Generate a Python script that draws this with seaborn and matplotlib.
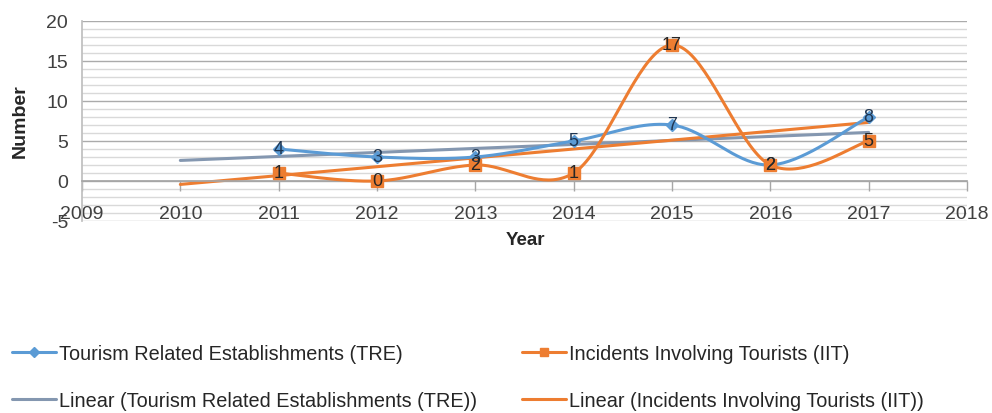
import numpy as np
import pandas as pd
import matplotlib
matplotlib.use("Agg")
import matplotlib.pyplot as plt
from matplotlib.lines import Line2D
import seaborn as sns

years = [2011, 2012, 2013, 2014, 2015, 2016, 2017]
tre = [4, 3, 3, 5, 7, 2, 8]
iit = [1, 0, 2, 1, 17, 2, 5]
tre_name = "Tourism Related Establishments (TRE)"
iit_name = "Incidents Involving Tourists (IIT)"
trend_start = 2010
x_ticks = list(range(2009, 2019))
y_ticks = [-5, 0, 5, 10, 15, 20]

sns.set_theme(style="white")
plt.rcParams["font.family"] = ["Liberation Sans", "DejaVu Sans"]

C_TRE = "#5B9BD5"
C_IIT = "#ED7D31"
C_TRE_TR = "#8497B0"
TXT = "#404040"


def smooth(xs, ys, n=40):
    """Excel-style smoothed line (cubic Bezier with Catmull-Rom tangents)."""
    P = np.column_stack([xs, ys]).astype(float)
    out = []
    for i in range(len(P) - 1):
        p0 = P[i - 1] if i > 0 else P[i]
        p1, p2 = P[i], P[i + 1]
        p3 = P[i + 2] if i + 2 < len(P) else P[i + 1]
        c1 = p1 + (p2 - p0) / 6.0
        c2 = p2 - (p3 - p1) / 6.0
        t = np.linspace(0, 1, n)[:, None]
        seg = ((1 - t) ** 3) * p1 + 3 * ((1 - t) ** 2) * t * c1 + 3 * (1 - t) * t ** 2 * c2 + t ** 3 * p2
        out.append(seg if i == 0 else seg[1:])
    s = np.vstack(out)
    return s[:, 0], s[:, 1]


fig = plt.figure(figsize=(9.92, 4.14), dpi=100)
ax = fig.add_axes([82 / 992, 1 - 222 / 414, (967 - 82) / 992, 200 / 414])

# gridlines
for v in np.arange(-4, 21, 1):
    major = (v % 5 == 0)
    ax.axhline(v, color="#ABABAB" if major else "#D9D9D9", lw=1.0, zorder=0)
ax.axhline(-5, color="#BFBFBF", lw=1.0, zorder=0)

# trendlines (least squares, extended back to 2010)
tx = np.array([trend_start, years[-1]], dtype=float)
for vals, col in [(tre, C_TRE_TR), (iit, C_IIT)]:
    m, b = np.polyfit(years, vals, 1)
    sns.lineplot(x=tx, y=m * tx + b, ax=ax, color=col, lw=2.2, zorder=2)

# smoothed series
for vals, col, mk, ms in [(tre, C_TRE, "D", 6), (iit, C_IIT, "s", 8)]:
    sx, sy = smooth(years, vals)
    sns.lineplot(x=sx, y=sy, ax=ax, color=col, lw=2.2, zorder=3, sort=False)
    ax.plot(years, vals, linestyle="none", marker=mk, ms=ms, color=col, zorder=4)

# data labels
for vals, tc in [(tre, "#1F3550"), (iit, "#262626")]:
    for x, y in zip(years, vals):
        ax.text(x, y, str(y), ha="center", va="center", fontsize=13, color=tc, zorder=5)

ax.spines["bottom"].set_position(("data", 0))
ax.set_xlim(2009, 2018)
ax.set_ylim(-5, 20)
ax.set_xticks(x_ticks)
ax.set_xticklabels([str(t) for t in x_ticks], fontsize=14, color=TXT)
ax.set_yticks(y_ticks)
ax.set_yticklabels([str(t) for t in y_ticks], fontsize=14, color=TXT)
ax.spines["bottom"].set_color("#A6A6A6")
ax.spines["left"].set_color("#BFBFBF")
ax.spines["top"].set_visible(False)
ax.spines["right"].set_visible(False)
ax.tick_params(axis="x", direction="out", length=7, width=1, color="#A6A6A6", pad=10, bottom=True)
ax.tick_params(axis="y", length=0, pad=10)
ax.set_xlabel("")
ax.set_ylabel("")

fig.text(525 / 992, 1 - 241 / 414, "Year", ha="center", va="center", fontsize=13.5, fontweight="bold", color="#262626")
fig.text(20 / 992, 1 - 121 / 414, "Number", ha="center", va="center", rotation=90, fontsize=14,
         fontweight="bold", color="#262626")

handles = [
    Line2D([], [], color=C_TRE, lw=2.2, marker="D", ms=5),
    Line2D([], [], color=C_TRE_TR, lw=2.2),
    Line2D([], [], color=C_IIT, lw=2.2, marker="s", ms=6),
    Line2D([], [], color=C_IIT, lw=2.2),
]
labels = [tre_name, "Linear (" + tre_name + ")", iit_name, "Linear (" + iit_name + ")"]
leg = fig.legend(handles, labels, ncol=2, loc="upper left", bbox_to_anchor=(12 / 992, 1 - 345 / 414),
                 frameon=False, fontsize=14.3, handlelength=2.2, handletextpad=0.15,
                 labelspacing=1.4, columnspacing=2.3, labelcolor="#262626",
                 borderpad=0, borderaxespad=0)

fig.savefig("out.png", dpi=100)
